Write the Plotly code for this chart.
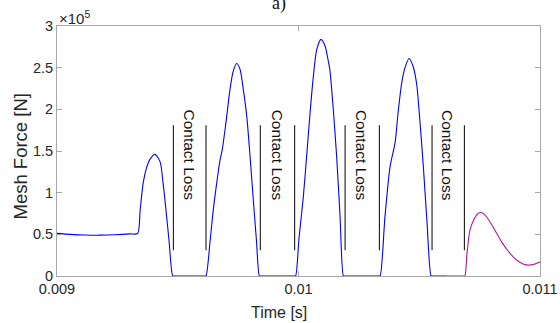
import plotly.graph_objects as go

# Mesh force time history (time in ms, force in units of 1e5 N)
t_contact_ms = [
    9.000, 9.054, 9.116, 9.178, 9.240, 9.302, 9.334, 9.344, 9.357, 9.371, 9.385,
    9.406, 9.427, 9.439, 9.451, 9.464, 9.479, 9.484,
    9.612, 9.617, 9.634, 9.647, 9.663, 9.675, 9.684, 9.700, 9.716, 9.729, 9.744, 9.758,
    9.770, 9.786, 9.799, 9.813, 9.826, 9.838, 9.843,
    9.983, 9.988, 10.002, 10.020, 10.034, 10.048, 10.061, 10.075, 10.093, 10.110, 10.122,
    10.130, 10.144, 10.158, 10.172, 10.186, 10.191,
    10.333, 10.338, 10.358, 10.379, 10.400, 10.412, 10.427, 10.441, 10.458, 10.474, 10.489,
    10.503, 10.517, 10.532, 10.549, 10.554, 10.615,
]
force_contact = [
    0.512, 0.500, 0.492, 0.490, 0.495, 0.505, 0.510, 0.780, 1.120, 1.300, 1.400,
    1.460, 1.370, 1.120, 0.800, 0.420, 0.000, 0.000,
    0.000, 0.000, 0.420, 0.790, 1.150, 1.390, 1.510, 1.850, 2.230, 2.450, 2.550, 2.480,
    2.270, 1.910, 1.450, 0.910, 0.420, 0.000, 0.000,
    0.000, 0.000, 0.450, 0.950, 1.450, 1.960, 2.380, 2.710, 2.840, 2.760, 2.600,
    2.470, 2.000, 1.430, 0.720, 0.000, 0.000,
    0.000, 0.000, 0.710, 1.310, 1.600, 1.950, 2.310, 2.500, 2.610, 2.520, 2.310,
    1.850, 1.310, 0.650, 0.000, 0.000, 0.000,
]

t_release_ms = [
    10.615, 10.684, 10.689, 10.698, 10.710, 10.727, 10.743, 10.759, 10.776, 10.797, 10.821,
    10.843, 10.868, 10.889, 10.909, 10.930, 10.952, 10.975, 11.000,
]
force_release = [
    0.000, 0.000, 0.000, 0.280, 0.550, 0.680, 0.750, 0.760, 0.720, 0.630, 0.510,
    0.400, 0.300, 0.230, 0.180, 0.145, 0.130, 0.140, 0.170,
]

# Start / end of each contact-loss interval (ms)
loss_start_ms = [9.482, 9.842, 10.193, 10.553]
loss_end_ms = [9.617, 9.984, 10.335, 10.687]
marker_low, marker_high = 0.31, 1.81
label_level = 1.45
label_text = "Contact Loss"

SCALE = 1e5
x_ticks = [0.009, 0.010, 0.011]
x_tick_text = ["0.009", "0.01", "0.011"]
y_ticks = [0, 0.5, 1, 1.5, 2, 2.5, 3]
y_tick_text = ["0", "0.5", "1", "1.5", "2", "2.5", "3"]

FONT = "Liberation Sans, Arial, Helvetica, sans-serif"
AXIS_GRAY = "#a8a8a8"
TEXT = "#262626"

fig = go.Figure()

for s, e in zip(loss_start_ms, loss_end_ms):
    for tm in (s, e):
        fig.add_trace(go.Scatter(
            x=[tm / 1000, tm / 1000],
            y=[marker_low * SCALE, marker_high * SCALE],
            mode="lines", line=dict(color="#1a1a1a", width=1.1),
            showlegend=False, hoverinfo="skip",
        ))
    fig.add_annotation(
        x=(s + e) / 2000, y=label_level * SCALE, xref="x", yref="y",
        text=label_text, textangle=90, showarrow=False,
        font=dict(family=FONT, size=15.5, color="#111111"),
    )

fig.add_trace(go.Scatter(
    x=[v / 1000 for v in t_contact_ms], y=[v * SCALE for v in force_contact],
    mode="lines", line=dict(color="#0000ff", width=1.1, shape="spline", smoothing=0.7),
    showlegend=False,
))
fig.add_trace(go.Scatter(
    x=[v / 1000 for v in t_release_ms], y=[v * SCALE for v in force_release],
    mode="lines", line=dict(color="#b0179b", width=1.1, shape="spline", smoothing=0.7),
    showlegend=False,
))

# Exponent marker above the y axis
fig.add_annotation(
    x=0, y=1, xref="paper", yref="paper", xanchor="left", yanchor="bottom",
    text="×10<sup>5</sup>", showarrow=False, yshift=-3,
    font=dict(family=FONT, size=15, color=TEXT),
)
# Panel label
fig.add_annotation(
    x=0.46, y=1.09, xref="paper", yref="paper", xanchor="center", yanchor="middle",
    text="a)", showarrow=False,
    font=dict(family="Liberation Serif, Times New Roman, serif", size=18, color="#111111"),
)
# Axis titles
fig.add_annotation(
    x=0.46, y=-0.144, xref="paper", yref="paper", xanchor="center", yanchor="middle",
    text="Time [s]", showarrow=False,
    font=dict(family=FONT, size=16, color=TEXT),
)
fig.add_annotation(
    x=-0.0776, y=0.476, xref="paper", yref="paper", xanchor="center", yanchor="middle",
    text="Mesh Force [N]", textangle=-90, showarrow=False,
    font=dict(family=FONT, size=18.5, color=TEXT),
)

fig.update_layout(
    width=560, height=323,
    margin=dict(l=57, r=20, t=26, b=47),
    paper_bgcolor="white", plot_bgcolor="white",
    font=dict(family=FONT, color=TEXT),
    xaxis=dict(
        range=[0.009, 0.011], tickvals=x_ticks, ticktext=x_tick_text,
        showgrid=False, zeroline=False, automargin=False,
        showline=True, linecolor=AXIS_GRAY, linewidth=1, mirror="ticks",
        ticks="inside", ticklen=5, tickcolor=AXIS_GRAY,
        tickfont=dict(family=FONT, size=14.5, color=TEXT),
    ),
    yaxis=dict(
        range=[0, 3 * SCALE], tickvals=[v * SCALE for v in y_ticks], ticktext=y_tick_text,
        showgrid=False, zeroline=False, automargin=False,
        showline=True, linecolor=AXIS_GRAY, linewidth=1, mirror="ticks",
        ticks="inside", ticklen=5, tickcolor=AXIS_GRAY,
        tickfont=dict(family=FONT, size=14.5, color=TEXT),
    ),
)

fig.write_html("out.html")
